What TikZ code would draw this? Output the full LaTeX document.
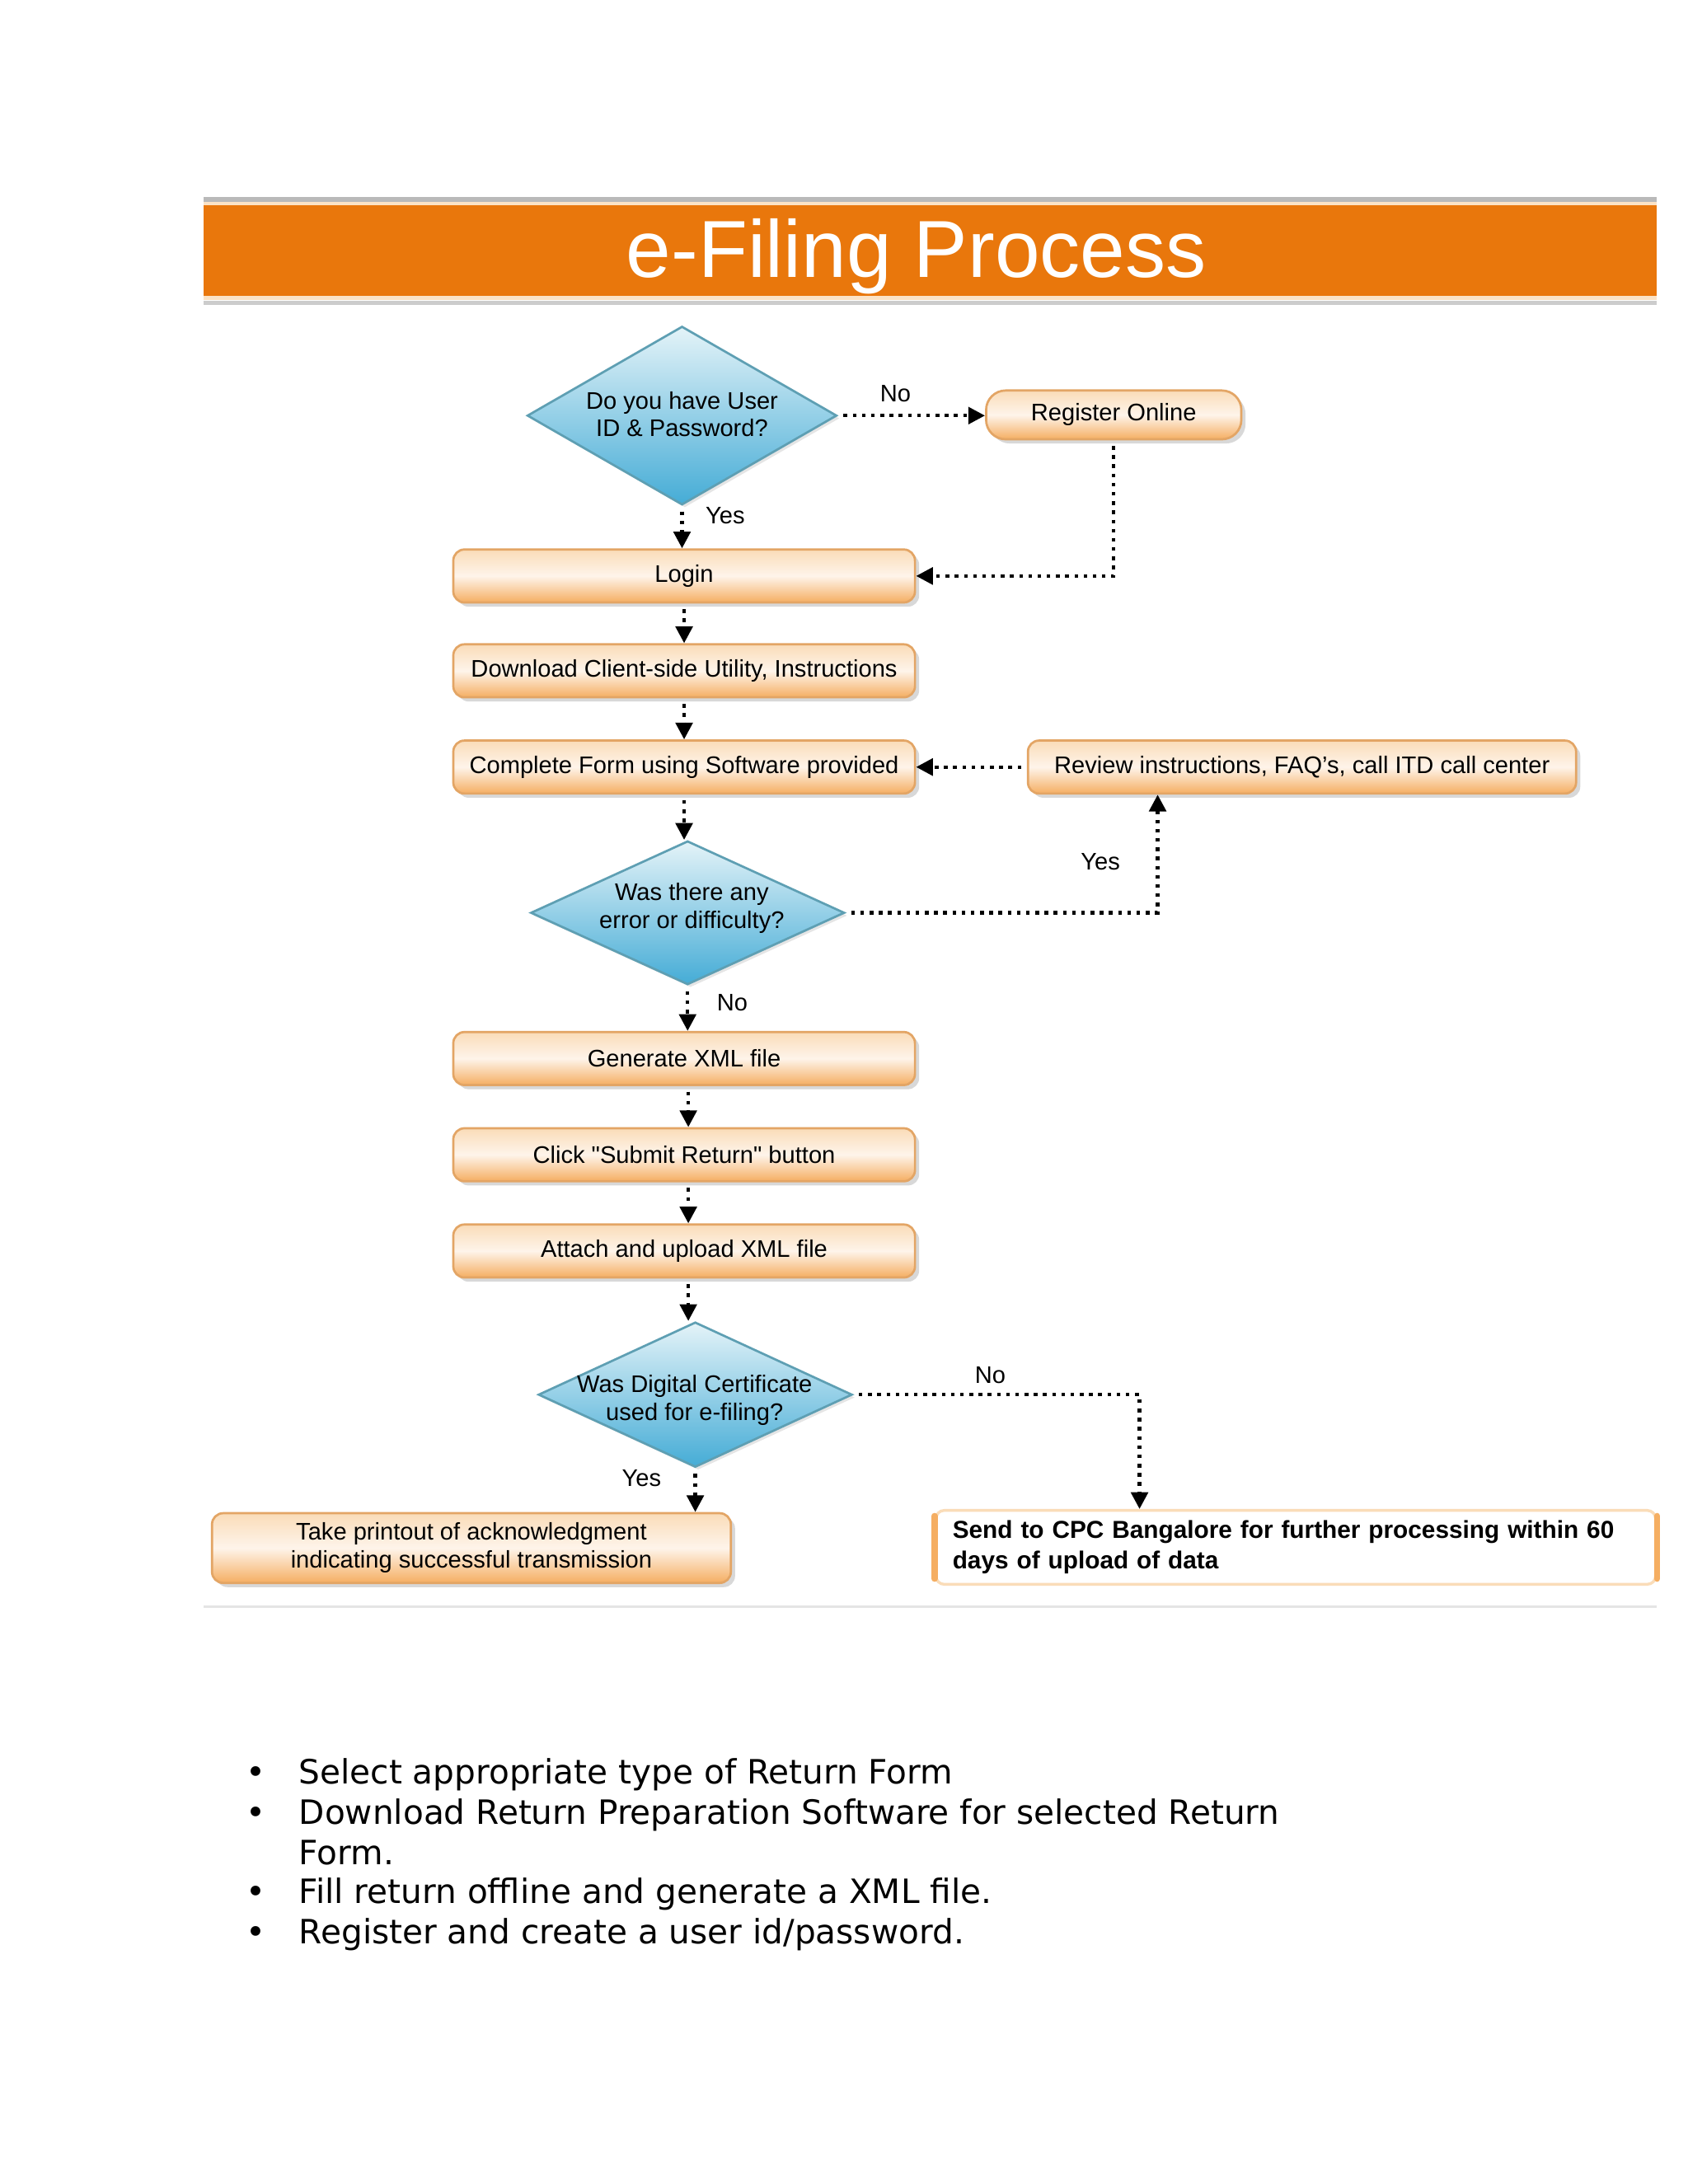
\documentclass[tikz,border=0pt]{standalone}
\usepackage{fontspec}
\setmainfont{Liberation Sans}[Ligatures=TeXOff]
\newfontfamily\bulletfont{DejaVu Sans}
\usetikzlibrary{shapes.geometric,arrows.meta,shadows}

\definecolor{barOrange}{HTML}{E9770C}
\definecolor{barCream}{HTML}{FBE3C6}
\definecolor{boxTop}{HTML}{FADCB8}
\definecolor{boxMid}{HTML}{FEF4EA}
\definecolor{boxBot}{HTML}{F5AE62}
\definecolor{boxLine}{HTML}{E3A565}
\definecolor{diaTop}{HTML}{E4F3F8}
\definecolor{diaBot}{HTML}{45ACD6}
\definecolor{diaLine}{HTML}{5E9FB3}

\begin{document}
\begin{tikzpicture}[x=0.5pt,y=-0.5pt,
  font=\fontsize{8.6}{10}\selectfont,
  procbox/.style={rectangle, rounded corners=4pt, draw=boxLine, line width=0.8pt,
    top color=boxTop, bottom color=boxBot, middle color=boxMid,
    drop shadow={shadow xshift=1.5pt, shadow yshift=-1.5pt, opacity=0.3},
    minimum height=19pt, inner sep=0pt, align=center},
  mainbox/.style={procbox, minimum width=165.5pt},
  decision/.style={diamond, draw=diaLine, line width=0.8pt, top color=diaTop, bottom color=diaBot,
    inner sep=0pt, drop shadow={shadow xshift=1pt, shadow yshift=-1pt, opacity=0.2}},
  dtext/.style={align=center, inner sep=0pt},
  sendbox/.style={rectangle, rounded corners=3pt, fill=white, draw=boxTop, line width=1pt,
    font=\fontsize{8.8}{11}\selectfont\bfseries, align=left, text width=246pt, inner xsep=6pt,
    inner ysep=0pt, minimum height=26.5pt},
  sendedge/.style={boxBot, line width=2.2pt, line cap=round},
  flow/.style={line width=1.3pt, dash pattern=on 1.3pt off 2pt, shorten <=2pt,
    -{Triangle[length=6pt,width=6pt]}},
  lbl/.style={inner sep=0pt},
  bul/.style={anchor=base west, inner sep=0pt, font=\bulletfont\fontsize{12}{14}\selectfont},
]
\useasboundingbox (0,0) rectangle (1210,1566);
\fill[white] (0,0) rectangle (1210,1566);

% title bar
\draw[gray!55, line width=1.5pt] (146,143) -- (1188,143);
\fill[barCream] (146,144.5) rectangle (1188,147);
\fill[barOrange] (146,147) rectangle (1188,212);
\fill[barCream] (146,212) rectangle (1188,215);
\draw[gray!40, line width=1.5pt] (146,217) -- (1188,217);
\node[text=white, font=\fontsize{29}{34}\selectfont, inner sep=0pt] (title) at (657,184) {e-Filing Process};

% nodes
\node[decision, minimum width=111pt, minimum height=64pt] (d1) at (489,298) {};
\node[dtext] (d1t) at (489,297) {Do you have User\\ID \& Password?};
\node[procbox, minimum width=91.5pt, minimum height=17.5pt, rounded corners=7pt] (reg) at (798.5,297.5) {Register Online};
\node[mainbox] (login) at (490.5,413) {Login};
\node[mainbox] (dl) at (490.5,481) {Download Client-side Utility, Instructions};
\node[mainbox] (form) at (490.5,550) {Complete Form using Software provided};
\node[procbox, minimum width=196.5pt] (rev) at (933.5,550) {Review instructions, FAQ’s, call ITD call center};
\node[decision, minimum width=112.5pt, minimum height=51.5pt] (d2) at (493,654.5) {};
\node[dtext] (d2t) at (496,651) {Was there any\\error or difficulty?};
\node[mainbox] (xml) at (490.5,759) {Generate XML file};
\node[mainbox] (submit) at (490.5,828) {Click "Submit Return" button};
\node[mainbox] (upload) at (490.5,897) {Attach and upload XML file};
\node[decision, minimum width=112.5pt, minimum height=52pt] (d3) at (498.5,1000) {};
\node[dtext] (d3t) at (498,1004) {Was Digital Certificate\\used for e-filing?};
\node[procbox, minimum width=186pt, minimum height=25pt] (ack) at (338,1110) {Take printout of acknowledgment\\indicating successful transmission};
\node[sendbox] (cpc) at (929,1109.5) {Send to CPC Bangalore for further processing within 60\\days of upload of data};
\draw[sendedge] ([yshift=-2.5pt]cpc.north west) -- ([yshift=2.5pt]cpc.south west);
\draw[sendedge] ([yshift=-2.5pt]cpc.north east) -- ([yshift=2.5pt]cpc.south east);

\coordinate (c2) at (830,654.5);
\coordinate (c3) at (817,1000);

% connectors
\draw[flow] (d1.east) -- (d1.east -| reg.west);
\draw[flow] (reg.south) -- (reg.south |- login.east) -- (login.east);
\draw[flow] (d1.south) -- (d1.south |- login.north);
\draw[flow] (login.south) -- (dl.north);
\draw[flow] (dl.south) -- (form.north);
\draw[flow] (rev.west) -- (form.east);
\draw[flow] (form.south) -- (form.south |- d2.north);
\draw[flow] (d2.east) -- (c2) -- (c2 |- rev.south);
\draw[flow] (d2.south) -- (d2.south |- xml.north);
\draw[flow] ([xshift=1.5pt]xml.south) -- ([xshift=1.5pt]submit.north);
\draw[flow] ([xshift=1.5pt]submit.south) -- ([xshift=1.5pt]upload.north);
\draw[flow] ([xshift=1.5pt]upload.south) -- ([xshift=1.5pt]upload.south |- d3.north);
\draw[flow] (d3.east) -- (c3) -- (c3 |- cpc.north);
\draw[flow] (d3.south) -- (d3.south |- ack.north);

% labels
\node[lbl] (l1) at (642,282) {No};
\node[lbl] (l2) at (520,370) {Yes};
\node[lbl] (l3) at (789,618) {Yes};
\node[lbl] (l4) at (525,719) {No};
\node[lbl] (l5) at (710,986) {No};
\node[lbl] (l6) at (460,1060) {Yes};

% bottom rule
\draw[gray!20, line width=1pt] (146,1152) -- (1188,1152);

% bullets
\node[bul] (b1) at (176,1279) {•};
\node[bul] (t1) at (214,1279) {Select appropriate type of Return Form};
\node[bul] (b2) at (176,1308) {•};
\node[bul] (t2) at (214,1308) {Download Return Preparation Software for selected Return};
\node[bul] (t3) at (214,1337) {Form.};
\node[bul] (b4) at (176,1365) {•};
\node[bul] (t4) at (214,1365) {Fill return offline and generate a XML file.};
\node[bul] (b5) at (176,1394) {•};
\node[bul] (t5) at (214,1394) {Register and create a user id/password.};
\end{tikzpicture}
\end{document}
